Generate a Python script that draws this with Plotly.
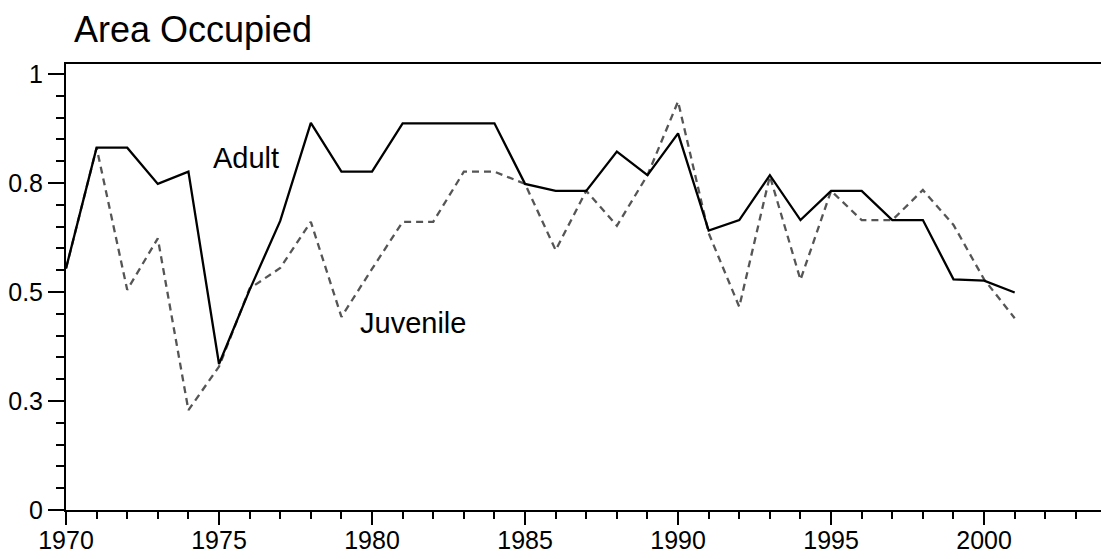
import plotly.graph_objects as go

# Survey years and proportion of area occupied
years = list(range(1970, 2002))
adult = [0.554, 0.831, 0.831, 0.748, 0.776, 0.335, 0.505, 0.663, 0.888, 0.776,
         0.776, 0.887, 0.887, 0.887, 0.887, 0.748, 0.732, 0.732, 0.822, 0.768,
         0.864, 0.641, 0.665, 0.768, 0.665, 0.732, 0.732, 0.665, 0.665, 0.529,
         0.526, 0.499]
juvenile = [0.554, 0.831, 0.505, 0.623, 0.229, 0.329, 0.508, 0.555, 0.661, 0.443,
            0.553, 0.661, 0.661, 0.776, 0.776, 0.748, 0.596, 0.732, 0.652, 0.768,
            0.937, 0.635, 0.466, 0.766, 0.528, 0.732, 0.665, 0.665, 0.734, 0.654,
            0.529, 0.440]

# Axis ticks
x_tickvals = [1970, 1975, 1980, 1985, 1990, 1995, 2000]
y_tickvals = [0, 0.25, 0.5, 0.75, 1.0]
y_ticktext = ["0", "0.3", "0.5", "0.8", "1"]

FONT = "Liberation Sans, Arial, Helvetica, sans-serif"

fig = go.Figure()
fig.add_trace(go.Scatter(
    x=years, y=juvenile, mode="lines", name="Juvenile",
    line=dict(color="#555555", width=2.3, dash="7px,5px"),
))
fig.add_trace(go.Scatter(
    x=years, y=adult, mode="lines", name="Adult",
    line=dict(color="#000000", width=2.3),
))

fig.add_annotation(x=1975.88, y=0.808, text="Adult", showarrow=False,
                   font=dict(family=FONT, size=29, color="#000"))
fig.add_annotation(x=1981.34, y=0.430, text="Juvenile", showarrow=False,
                   font=dict(family=FONT, size=29, color="#000"))

fig.update_layout(
    width=1101, height=559,
    margin=dict(l=66, r=0, t=64, b=49),
    paper_bgcolor="white", plot_bgcolor="white",
    showlegend=False,
    font=dict(family=FONT, size=25, color="#000"),
    title=dict(text="Area Occupied", x=74 / 1101, xanchor="left",
               y=1 - 29 / 559, yanchor="middle",
               font=dict(family=FONT, size=36, color="#000")),
)
fig.update_xaxes(
    range=[1970, 2003.82], showgrid=False, zeroline=False,
    showline=True, linecolor="#000", linewidth=2, mirror=True,
    tickmode="array", tickvals=x_tickvals,
    ticks="outside", ticklen=13, tickwidth=2, tickcolor="#000",
    ticklabelstandoff=-6,
    minor=dict(dtick=1, tick0=1970, ticks="outside", ticklen=7,
               tickwidth=2, tickcolor="#000", showgrid=False),
)
fig.update_yaxes(
    range=[0, 1.023], showgrid=False, zeroline=False,
    showline=True, linecolor="#000", linewidth=2,
    tickmode="array", tickvals=y_tickvals, ticktext=y_ticktext,
    ticks="outside", ticklen=16, tickwidth=2, tickcolor="#000",
    minor=dict(dtick=0.05, tick0=0, ticks="outside", ticklen=8,
               tickwidth=2, tickcolor="#000", showgrid=False),
)

fig.write_html("out.html")
